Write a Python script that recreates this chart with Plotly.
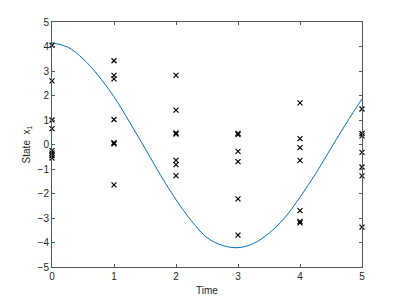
import plotly.graph_objects as go

# Measured samples (x markers) per time step
times = [0, 1, 2, 3, 4, 5]
samples_t0 = [4.05, 2.6, 1.0, 0.65, -0.25, -0.35, -0.45, -0.55]
samples_t1 = [3.42, 2.82, 2.68, 1.02, 0.07, 0.03, -1.65]
samples_t2 = [2.82, 1.4, 0.47, 0.43, -0.65, -0.82, -1.27]
samples_t3 = [0.45, 0.4, -0.28, -0.7, -2.22, -3.7]
samples_t4 = [1.7, 0.24, -0.13, -0.65, -2.7, -3.14, -3.2]
samples_t5 = [1.45, 0.45, 0.35, -0.32, -0.92, -1.28, -3.37]
samples = [samples_t0, samples_t1, samples_t2, samples_t3, samples_t4, samples_t5]

# True state curve
curve_t = [0, 0.25, 0.5, 0.75, 1.0, 1.25, 1.5, 1.75, 2.0, 2.25, 2.5, 2.75, 3.0,
           3.25, 3.5, 3.75, 4.0, 4.25, 4.5, 4.75, 5.0]
curve_x = [4.15, 3.98, 3.5, 2.8, 1.95, 0.92, -0.15, -1.25, -2.25, -3.12, -3.8, -4.12, -4.21,
           -4.04, -3.62, -3.0, -2.15, -1.2, -0.15, 0.88, 1.86]

xs, ys = [], []
for t, vals in zip(times, samples):
    for v in vals:
        xs.append(t)
        ys.append(v)

fig = go.Figure()
fig.add_trace(go.Scatter(
    x=curve_t, y=curve_x, mode="lines", line=dict(color="#0072BD", width=1, shape="spline"),
    showlegend=False, hoverinfo="skip"))
fig.add_trace(go.Scatter(
    x=xs, y=ys, mode="markers", cliponaxis=False,
    marker=dict(symbol="x-thin-open", size=5, color="black", line=dict(color="black", width=1.2)),
    showlegend=False))

font_family = "Liberation Sans, Arial, sans-serif"
axis_common = dict(
    showline=True, linecolor="#555555", linewidth=1, mirror="ticks",
    ticks="inside", ticklen=3, tickcolor="#555555", tickwidth=1,
    showgrid=False, zeroline=False, automargin=False,
    tickfont=dict(family=font_family, size=10, color="#262626"),
)

fig.update_xaxes(range=[0, 5], tickvals=[0, 1, 2, 3, 4, 5], **axis_common,
                 title=dict(text="Time", font=dict(family=font_family, size=10, color="#262626"), standoff=5))
fig.update_yaxes(range=[-5, 5], tickvals=list(range(-5, 6)), **axis_common,
                 title=dict(text="State  x<sub>1</sub>", font=dict(family=font_family, size=10, color="#262626"), standoff=5))

fig.update_layout(
    width=391, height=291,
    margin=dict(l=44, r=37, t=14, b=32),
    paper_bgcolor="white", plot_bgcolor="white",
)

fig.write_html("out.html")
